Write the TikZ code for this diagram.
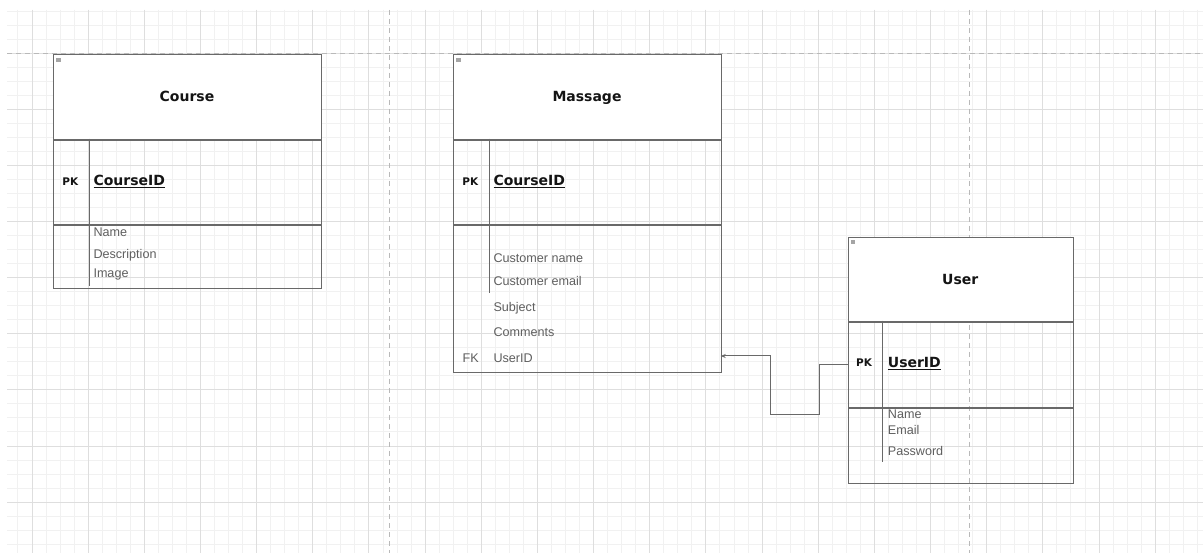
\documentclass[tikz,border=0pt]{standalone}
\usepackage{fontspec}
\setmainfont{Liberation Sans}
\newfontfamily\headfont{DejaVu Sans}
\usetikzlibrary{arrows.meta, positioning}
\definecolor{grid-minor}{RGB}{241,241,241}
\definecolor{grid-major}{RGB}{222,222,222}
\definecolor{page-dash}{RGB}{185,185,185}
\definecolor{erd-border}{RGB}{105,105,105}
\definecolor{erd-key}{RGB}{20,20,20}
\definecolor{erd-attr}{RGB}{95,95,95}
\definecolor{erd-icon}{RGB}{165,165,165}

\tikzset{
  headbox/.style={draw=erd-border, fill=white, line width=1pt, inner sep=0pt, anchor=north west},
  rowbox/.style={draw=erd-border, line width=1pt, inner sep=0pt, anchor=north west},
  divider/.style={draw=erd-border, line width=1pt},
  tabletitle/.style={font=\headfont\bfseries\fontsize{14}{16}\selectfont, text=erd-key, anchor=base, inner sep=0pt},
  keytag/.style={font=\headfont\bfseries\fontsize{10.5}{12}\selectfont, text=erd-key, anchor=base, inner sep=0pt},
  keyname/.style={font=\headfont\bfseries\fontsize{14}{16}\selectfont, text=erd-key, anchor=base west, inner sep=0pt},
  attr/.style={font=\fontsize{12.6}{14}\selectfont, text=erd-attr, anchor=base west, inner sep=0pt},
  fk-link/.style={draw=erd-border, line width=1pt, -{Stealth[length=5pt,width=4pt]}}
}

\begin{document}
\begin{tikzpicture}[x=1pt, y=-1pt]
  \useasboundingbox (0,0) rectangle (1203,553);
  \fill[white] (0,0) rectangle (1203,553);

  % Background grid
  \begin{scope}
    \clip (7,10) rectangle (1203,553);
    \foreach \i in {-2,...,84}
      \draw[grid-minor, line width=1pt] ({32+14.04*\i},10) -- ({32+14.04*\i},553);
    \foreach \j in {-4,...,36}
      \draw[grid-minor, line width=1pt] (7,{54+14*\j}) -- (1203,{54+14*\j});
    \foreach \i in {-1,...,21}
      \draw[grid-major, line width=1pt] ({32+56.16*\i},10) -- ({32+56.16*\i},553);
    \foreach \j in {-1,...,9}
      \draw[grid-major, line width=1pt] (7,{54+56*\j}) -- (1203,{54+56*\j});
  \end{scope}

  % Page breaks
  \draw[page-dash, line width=1pt, dash pattern=on 5pt off 4pt] (7,53.5) -- (1203,53.5);
  \draw[page-dash, line width=1pt, dash pattern=on 5pt off 4pt] (389,10) -- (389,553);
  \draw[page-dash, line width=1pt, dash pattern=on 5pt off 4pt] (969,10) -- (969,553);

  % Course table
  \node[headbox, minimum width=267.4pt, minimum height=84.7pt] (course-head) at (53.3,54) {};
  \node[rowbox, minimum width=267.4pt, minimum height=84pt] (course-key) at (course-head.south west) {};
  \node[rowbox, minimum width=267.4pt, minimum height=63.3pt] (course-attrs) at (course-key.south west) {};
  \draw[divider] (89,138.7) -- (89,286);
  \fill[erd-icon] (56,58) rectangle ++(4.5,4);
  \node[tabletitle] (course-title) at (187,102) {Course};
  \node[keytag] (course-pk) at (70.3,186) {PK};
  \node[keyname] (course-id) at (93.3,186) {\underline{CourseID}};
  \node[attr] (course-name) at (93.3,237) {Name};
  \node[attr] (course-desc) at (93.3,258.3) {Description};
  \node[attr] (course-image) at (93.3,277.5) {Image};

  % Massage table
  \node[headbox, minimum width=267.4pt, minimum height=84.7pt] (massage-head) at (453.3,54) {};
  \node[rowbox, minimum width=267.4pt, minimum height=84pt] (massage-key) at (massage-head.south west) {};
  \node[rowbox, minimum width=267.4pt, minimum height=147.3pt] (massage-attrs) at (massage-key.south west) {};
  \draw[divider] (489,138.7) -- (489,293.3);
  \fill[erd-icon] (456,58) rectangle ++(4.5,4);
  \node[tabletitle] (massage-title) at (587,102) {Massage};
  \node[keytag] (massage-pk) at (470.3,186) {PK};
  \node[keyname] (massage-id) at (493.3,186) {\underline{CourseID}};
  \node[attr] (massage-cname) at (493.3,262.5) {Customer name};
  \node[attr] (massage-cmail) at (493.3,285.7) {Customer email};
  \node[attr] (massage-subject) at (493.3,311.7) {Subject};
  \node[attr] (massage-comments) at (493.3,336.3) {Comments};
  \node[attr, anchor=base] (massage-fktag) at (470.7,363) {FK};
  \node[attr] (massage-userid) at (493.3,363) {UserID};
  \coordinate (massage-fk) at (720.7,356);

  % User table
  \node[headbox, minimum width=225pt, minimum height=84pt] (user-head) at (847.7,236.7) {};
  \node[rowbox, minimum width=225pt, minimum height=85pt] (user-key) at (user-head.south west) {};
  \node[rowbox, minimum width=225pt, minimum height=75.3pt] (user-attrs) at (user-key.south west) {};
  \draw[divider] (882.3,320.7) -- (882.3,462.3);
  \fill[erd-icon] (850.5,240.5) rectangle ++(4.5,4);
  \node[tabletitle] (user-title) at (960.2,285) {User};
  \node[keytag] (user-pk) at (864,367) {PK};
  \node[keyname] (user-id) at (887.7,367.5) {\underline{UserID}};
  \node[attr] (user-name) at (887.7,418.3) {Name};
  \node[attr] (user-email) at (887.7,434.7) {Email};
  \node[attr] (user-password) at (887.7,455) {Password};

  % Relation
  \draw[fk-link] (user-key.west) -- ++(-28.7,0) -- ++(0,49.5) -- ++(-49,0) |- (massage-fk);
\end{tikzpicture}
\end{document}
